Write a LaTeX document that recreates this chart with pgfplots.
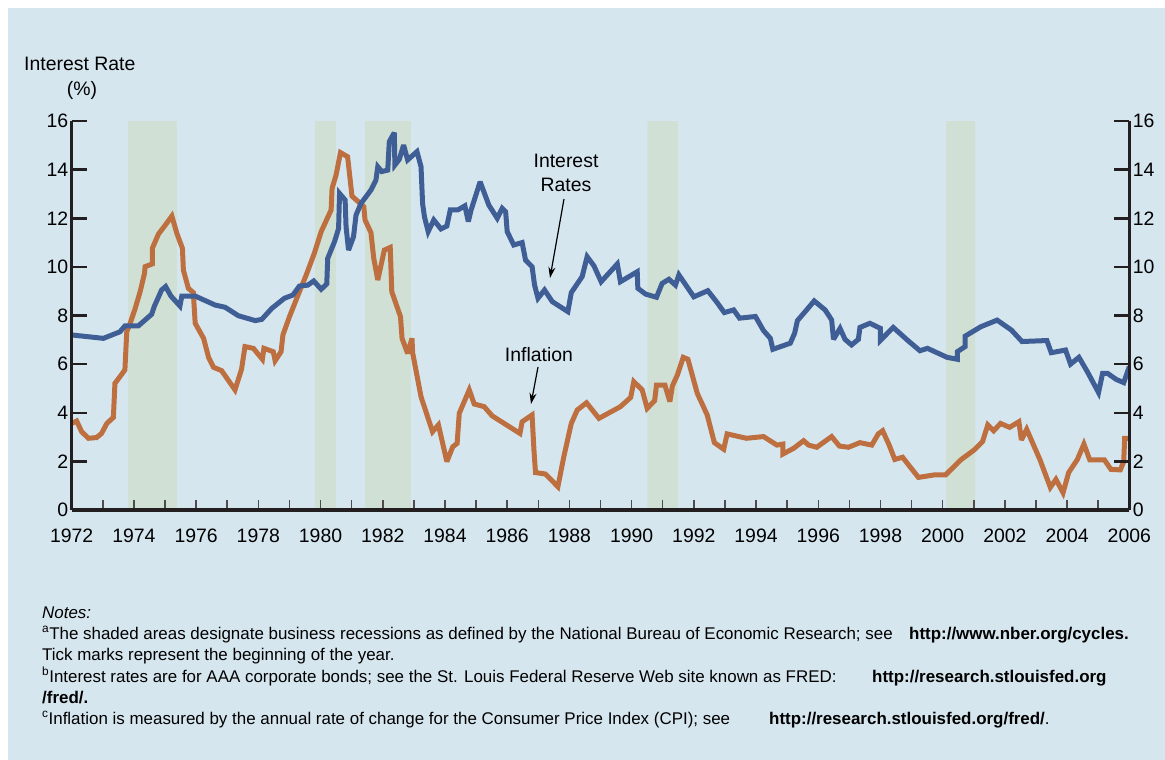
\documentclass[border=0pt]{standalone}
\usepackage{pgfplots}
\pgfplotsset{compat=1.18}
\usepackage{fontspec}
\setmainfont{Liberation Sans}
\usetikzlibrary{arrows.meta}

\definecolor{bgblue}{RGB}{214,230,239}
\definecolor{recess}{RGB}{208,224,212}
\definecolor{rateblue}{RGB}{63,94,150}
\definecolor{inflorange}{RGB}{190,111,64}
\definecolor{axisblack}{RGB}{35,31,32}

\newcommand\chartfont{\fontsize{19.5}{22}\selectfont}
\newcommand\notefont{\fontsize{17}{19}\selectfont}

% shared geometry: 1bp = 1px of the reference
\pgfplotsset{chart/.style={
    anchor=south west, at={(71.7bp,-510bp)},
    width=1057.6bp, height=389bp, scale only axis,
    xmin=1972, xmax=2006, ymin=0, ymax=16,
    tick align=inside,
    ticklabel style={font=\chartfont},
    /pgf/number format/assume math mode=true,
    /pgf/number format/1000 sep={},
}}

\begin{document}
\begin{tikzpicture}
\fill[white] (0bp,0bp) rectangle (1165bp,-760bp);
\fill[bgblue] (8bp,-8bp) rectangle (1165bp,-760bp);
\path[use as bounding box] (0bp,0bp) rectangle (1165bp,-760bp);

% data axis (x axis, recessions, series)
\begin{axis}[chart,
    axis x line*=bottom, axis y line=none, axis on top,
    x axis line style={-, line width=4bp, color=axisblack},
    xtick={1972,1974,...,2006},
    minor xtick={1973,1975,...,2005},
    major tick length=10bp, minor tick length=10bp,
    xtick style={line width=1.5bp, color=axisblack!80},
    minor tick style={line width=1.5bp, color=axisblack!80},
    xticklabel style={yshift=-15bp},
]
% recessions
\addplot[fill=recess, draw=none] coordinates {(1973.81,0) (1973.81,16) (1975.38,16) (1975.38,0)} \closedcycle;
\addplot[fill=recess, draw=none] coordinates {(1979.82,0) (1979.82,16) (1980.49,16) (1980.49,0)} \closedcycle;
\addplot[fill=recess, draw=none] coordinates {(1981.43,0) (1981.43,16) (1982.90,16) (1982.90,0)} \closedcycle;
\addplot[fill=recess, draw=none] coordinates {(1990.51,0) (1990.51,16) (1991.49,16) (1991.49,0)} \closedcycle;
\addplot[fill=recess, draw=none] coordinates {(2000.11,0) (2000.11,16) (2001.04,16) (2001.04,0)} \closedcycle;

% inflation (CPI)
\addplot[inflorange, line width=5bp, line join=miter, miter limit=3] coordinates {
(1972.00,3.56) (1972.16,3.66) (1972.32,3.22) (1972.54,2.95) (1972.80,2.98) (1972.96,3.15)
(1973.13,3.56) (1973.34,3.81) (1973.39,5.21) (1973.55,5.48) (1973.71,5.76) (1973.77,7.33)
(1973.88,7.68) (1974.04,8.29) (1974.20,8.98) (1974.34,9.73) (1974.36,10.01) (1974.59,10.12)
(1974.59,10.76) (1974.79,11.35) (1975.05,11.79) (1975.22,12.09) (1975.38,11.38) (1975.56,10.76)
(1975.59,9.87) (1975.75,9.12) (1975.91,8.94) (1975.97,7.68) (1976.24,7.06) (1976.40,6.28)
(1976.56,5.87) (1976.82,5.73) (1977.25,4.94) (1977.46,5.79) (1977.57,6.72) (1977.84,6.65)
(1978.13,6.20) (1978.18,6.65) (1978.48,6.51) (1978.54,6.14) (1978.73,6.51) (1978.79,7.20)
(1979.00,7.95) (1979.32,8.98) (1979.54,9.67) (1979.80,10.56) (1980.02,11.45) (1980.34,12.34)
(1980.37,13.23) (1980.50,13.78) (1980.64,14.70) (1980.87,14.53) (1981.01,12.91) (1981.39,12.48)
(1981.43,11.93) (1981.62,11.41) (1981.71,10.35) (1981.84,9.46) (1982.05,10.69) (1982.24,10.80)
(1982.29,8.98) (1982.57,7.95) (1982.62,7.06) (1982.80,6.44) (1982.94,7.06) (1982.96,6.47)
(1983.23,4.66) (1983.60,3.22) (1983.79,3.50) (1984.06,1.99) (1984.25,2.60) (1984.39,2.74)
(1984.46,3.98) (1984.78,4.94) (1984.94,4.36) (1985.26,4.25) (1985.52,3.87) (1986.41,3.15)
(1986.48,3.63) (1986.80,3.91) (1986.86,2.47) (1986.91,1.54) (1987.23,1.48) (1987.63,0.96)
(1987.82,2.19) (1988.06,3.56) (1988.25,4.11) (1988.55,4.41) (1988.95,3.77) (1989.64,4.25)
(1989.97,4.63) (1990.07,5.28) (1990.34,4.94) (1990.50,4.18) (1990.74,4.50) (1990.80,5.14)
(1991.07,5.14) (1991.23,4.46) (1991.31,5.10) (1991.47,5.55) (1991.66,6.28) (1991.81,6.20)
(1992.11,4.80) (1992.43,3.91) (1992.66,2.77) (1992.96,2.50) (1993.07,3.13) (1993.69,2.95)
(1994.24,3.02) (1994.67,2.67) (1994.86,2.71) (1994.86,2.30) (1995.21,2.54) (1995.53,2.85)
(1995.69,2.67) (1995.95,2.58) (1996.43,3.02) (1996.68,2.63) (1996.97,2.58) (1997.34,2.77)
(1997.72,2.67) (1997.93,3.13) (1998.07,3.26) (1998.28,2.67) (1998.46,2.08) (1998.71,2.17)
(1999.22,1.34) (1999.71,1.44) (2000.09,1.44) (2000.58,2.06) (2001.01,2.47) (2001.28,2.81)
(2001.45,3.50) (2001.64,3.26) (2001.86,3.56) (2002.15,3.40) (2002.45,3.63) (2002.53,2.88)
(2002.70,3.32) (2003.13,2.06) (2003.46,0.93) (2003.64,1.26) (2003.87,0.71) (2004.05,1.54)
(2004.33,2.08) (2004.54,2.71) (2004.73,2.06) (2005.20,2.06) (2005.41,1.67) (2005.71,1.65)
(2005.82,1.99) (2005.85,2.95) (2005.96,2.95)
};

% interest rates (AAA corporate bonds)
\addplot[rateblue, line width=5bp, line join=miter, miter limit=3] coordinates {
(1972.00,7.20) (1973.02,7.06) (1973.55,7.33) (1973.71,7.57) (1974.14,7.57) (1974.57,8.05)
(1974.66,8.39) (1974.89,9.05) (1975.02,9.19) (1975.19,8.80) (1975.48,8.39) (1975.54,8.80)
(1975.97,8.80) (1976.61,8.43) (1976.93,8.34) (1977.36,7.99) (1977.90,7.79) (1978.11,7.84)
(1978.43,8.29) (1978.84,8.71) (1979.11,8.84) (1979.32,9.21) (1979.59,9.25) (1979.78,9.42)
(1980.02,9.08) (1980.20,9.30) (1980.23,10.35) (1980.45,11.04) (1980.58,11.58) (1980.61,13.02)
(1980.79,12.75) (1980.82,11.65) (1980.90,10.69) (1981.06,11.24) (1981.14,12.13) (1981.30,12.61)
(1981.62,13.16) (1981.78,13.57) (1981.84,14.12) (1981.97,13.92) (1982.16,13.98) (1982.21,15.15)
(1982.37,15.52) (1982.39,14.19) (1982.53,14.42) (1982.67,15.01) (1982.80,14.40) (1983.10,14.74)
(1983.23,14.12) (1983.28,12.61) (1983.34,12.06) (1983.46,11.45) (1983.64,11.93) (1983.87,11.56)
(1984.06,11.68) (1984.17,12.34) (1984.41,12.34) (1984.64,12.51) (1984.75,11.86) (1984.84,12.34)
(1985.13,13.50) (1985.41,12.54) (1985.68,12.00) (1985.84,12.41) (1985.95,12.27) (1986.00,11.45)
(1986.21,10.90) (1986.48,11.00) (1986.59,10.28) (1986.80,10.01) (1986.88,9.25) (1986.99,8.71)
(1987.20,9.05) (1987.45,8.57) (1987.95,8.16) (1988.06,8.94) (1988.41,9.60) (1988.57,10.42)
(1988.79,10.04) (1989.02,9.39) (1989.54,10.12) (1989.64,9.39) (1990.18,9.80) (1990.20,9.12)
(1990.45,8.88) (1990.80,8.75) (1990.98,9.32) (1991.20,9.49) (1991.41,9.25) (1991.52,9.67)
(1992.00,8.77) (1992.45,9.02) (1992.75,8.53) (1992.98,8.12) (1993.28,8.23) (1993.47,7.89)
(1993.98,7.96) (1994.24,7.38) (1994.46,7.06) (1994.54,6.61) (1995.10,6.86) (1995.24,7.27)
(1995.33,7.79) (1995.58,8.16) (1995.87,8.60) (1996.22,8.23) (1996.43,7.82) (1996.49,7.02)
(1996.70,7.47) (1996.86,7.02) (1997.07,6.79) (1997.29,7.02) (1997.34,7.51) (1997.66,7.68)
(1998.00,7.47) (1998.00,6.98) (1998.41,7.51) (1998.89,6.96) (1999.27,6.55) (1999.51,6.65)
(2000.14,6.28) (2000.47,6.20) (2000.47,6.51) (2000.72,6.72) (2000.72,7.15) (2001.23,7.54)
(2001.75,7.81) (2002.21,7.40) (2002.55,6.93) (2003.35,6.97) (2003.49,6.47) (2003.95,6.58)
(2004.11,6.00) (2004.38,6.28) (2004.65,5.69) (2005.01,4.83) (2005.14,5.62) (2005.30,5.62)
(2005.58,5.37) (2005.82,5.24) (2006.00,5.90)
};
\end{axis}

% left y axis
\begin{axis}[chart,
    axis y line*=left, axis x line=none,
    y axis line style={-, line width=3bp, color=axisblack},
    ytick={0,2,...,16}, major tick length=15bp,
    ytick style={line width=2.5bp, color=axisblack},
]
\end{axis}

% right y axis
\begin{axis}[chart,
    axis y line*=right, axis x line=none,
    y axis line style={-, line width=3bp, color=axisblack},
    ytick={0,2,...,16}, major tick length=15bp,
    ytick style={line width=2.5bp, color=axisblack},
]
\end{axis}

% axis title
\node[anchor=base west, inner sep=0pt] at (24bp,-70bp) {\chartfont Interest Rate};
\node[anchor=base, inner sep=0pt] at (82bp,-95bp) {\chartfont (\%)};

% annotations
\node[anchor=base, inner sep=0pt] at (566bp,-167bp) {\chartfont Interest};
\node[anchor=base, inner sep=0pt] at (566bp,-191bp) {\chartfont Rates};
\draw[line width=1.2bp, -{Stealth[length=11bp,width=7bp]}] (564bp,-199bp) -- (550bp,-278bp);
\node[anchor=base, inner sep=0pt] at (539bp,-361bp) {\chartfont Inflation};
\draw[line width=1.2bp, -{Stealth[length=11bp,width=7bp]}] (538bp,-367bp) -- (531bp,-404bp);

% notes
\node[anchor=base west, inner sep=0pt] at (42bp,-618bp) {\notefont\itshape Notes:};
\node[anchor=base west, inner sep=0pt] at (42bp,-639bp) {\notefont\textsuperscript{a}The shaded areas designate business recessions as defined by the National Bureau of Economic Research; see};
\node[anchor=base west, inner sep=0pt] at (909bp,-639bp) {\notefont\bfseries http://www.nber.org/cycles.};
\node[anchor=base west, inner sep=0pt] at (42bp,-660bp) {\notefont Tick marks represent the beginning of the year.};
\node[anchor=base west, inner sep=0pt] at (42bp,-682bp) {\notefont\textsuperscript{b}Interest rates are for AAA corporate bonds; see the St. Louis Federal Reserve Web site known as FRED:};
\node[anchor=base west, inner sep=0pt] at (872bp,-682bp) {\notefont\bfseries http://research.stlouisfed.org};
\node[anchor=base west, inner sep=0pt] at (42bp,-703bp) {\notefont\bfseries /fred/.};
\node[anchor=base west, inner sep=0pt] at (42bp,-724bp) {\notefont\textsuperscript{c}Inflation is measured by the annual rate of change for the Consumer Price Index (CPI); see};
\node[anchor=base west, inner sep=0pt] at (769bp,-724bp) {\notefont\bfseries http://research.stlouisfed.org/fred/\mdseries.};
\end{tikzpicture}
\end{document}
